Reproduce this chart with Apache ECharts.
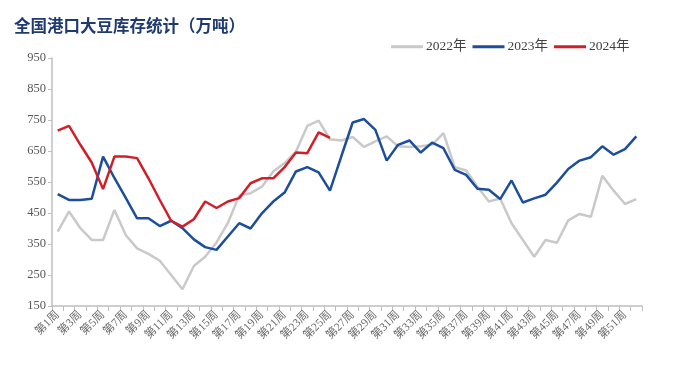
<!DOCTYPE html>
<html><head><meta charset="utf-8">
<script src="https://cdn.jsdelivr.net/npm/echarts@6/dist/echarts.min.js"></script>
<style>html,body{margin:0;padding:0;background:#fff}#c{width:682px;height:365px}</style>
</head><body><div id="c"></div>
<script>
const weeks = [];
for (let i = 1; i <= 52; i++) weeks.push('第' + i + '周');
const seriesNames = ['2022年', '2023年', '2024年'];
const data2022 = [390,455,401,363,363,460,379,336,318,296,250,204,279,309,355,418,506,514,535,584,611,648,731,748,688,684,695,663,681,697,665,663,665,670,708,598,587,535,487,497,417,363,309,363,354,426,447,438,570,522,479,495];
const data2023 = [511,492,492,496,632,563,499,433,433,408,425,401,365,340,331,374,417,400,449,487,516,584,598,581,522,633,742,753,718,619,670,684,645,677,659,589,573,528,525,495,555,484,497,509,548,592,619,630,665,638,656,697];
const data2024 = [716,731,670,613,527,632,632,627,562,492,425,406,430,487,466,487,498,546,562,562,598,645,643,710,692];
const yTicks = {min: 150, max: 950, interval: 100};

const colors = ['#C9C9C9', '#1C4E9A', '#D11F2A'];
const serif = '"Liberation Serif","Noto Sans CJK SC",serif';
const chart = echarts.init(document.getElementById('c'));
chart.setOption({
  animation: false,
  color: colors,
  title: {
    text: '全国港口大豆库存统计（万吨）',
    left: 9, top: 12,
    textStyle: {fontFamily: '"Noto Sans CJK SC"', fontWeight: 'bold', fontSize: 16.5, color: '#1F3A6E'}
  },
  legend: {
    data: seriesNames,
    left: 386, top: 35,
    itemWidth: 32, itemHeight: 3, itemGap: 6,
    icon: 'rect',
    textStyle: {fontFamily: serif, fontSize: 13.5, color: '#404040', padding: [0, 0, 0, -2]}
  },
  grid: {left: 52, right: 40, top: 58, bottom: 59},
  xAxis: {
    type: 'category',
    data: weeks,
    boundaryGap: true,
    axisLine: {lineStyle: {color: '#BFBFBF', width: 1.5}},
    axisTick: {show: true, interval: 0, length: 5, lineStyle: {color: '#BFBFBF'}},
    axisLabel: {interval: 1, rotate: 45, fontFamily: serif, fontSize: 11.5, color: '#6A6A6A', margin: 7}
  },
  yAxis: {
    type: 'value',
    min: yTicks.min, max: yTicks.max, interval: yTicks.interval,
    axisLine: {show: true, lineStyle: {color: '#BFBFBF', width: 1.5}},
    axisTick: {show: true, length: 4, lineStyle: {color: '#BFBFBF'}},
    splitLine: {show: false},
    axisLabel: {fontFamily: serif, fontSize: 12.5, color: '#595959', margin: 6}
  },
  series: [
    {name: seriesNames[0], type: 'line', data: data2022, symbol: 'none', lineStyle: {width: 2.5, color: colors[0]}, z: 1},
    {name: seriesNames[1], type: 'line', data: data2023, symbol: 'none', lineStyle: {width: 2.5, color: colors[1]}, z: 2},
    {name: seriesNames[2], type: 'line', data: data2024, symbol: 'none', lineStyle: {width: 2.5, color: colors[2]}, z: 3}
  ]
});
</script></body></html>
